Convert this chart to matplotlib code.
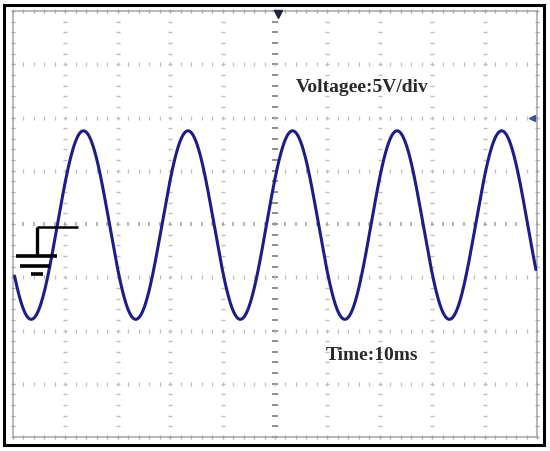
import numpy as np
import matplotlib
matplotlib.use("Agg")
import matplotlib.pyplot as plt
from matplotlib.patches import Rectangle

# scope settings (10 x 8 divisions)
time_per_div_ms = 10
volt_per_div = 5
n_div_x = 10
n_div_y = 8

# trace parameters
amplitude_v = 8.85
offset_v = -0.1
period_ms = 19.95
first_peak_ms = 13.45
trace_start_ms = 0.3
trace_end_ms = 99.8

# annotations
voltage_label = "Voltagee:5V/div"
time_label = "Time:10ms"
voltage_label_pos = (54.0, 12.4)
time_label_pos = (59.7, -12.8)

# ground symbol segments (x0, x1, y) in ms / V
ground_bars = [(0.61, 8.46, -3.0, 2.6), (1.28, 7.06, -3.91, 2.6), (3.4, 5.7, -4.7, 2.6)]
ground_top = (4.6, 12.4, -0.31)
ground_stem = (4.6, -0.31, -3.0)

W, H = 550, 451
fig = plt.figure(figsize=(W / 100, H / 100), dpi=100)
fig.patch.set_facecolor("white")

# screen area in pixels
sx0, sx1, sy0, sy1 = 13, 537, 11, 437
ax = fig.add_axes([sx0 / W, 1 - sy1 / H, (sx1 - sx0) / W, (sy1 - sy0) / H])
xmax = n_div_x * time_per_div_ms
ymax = n_div_y / 2 * volt_per_div
ax.set_xlim(0, xmax)
ax.set_ylim(-ymax, ymax)
ax.axis("off")

grid_col = "#bdbdbd"
minor_x = np.arange(0, xmax + 0.01, time_per_div_ms / 5)
minor_y = np.arange(-ymax, ymax + 0.01, volt_per_div / 5)

# vertical division lines: columns of short dashes
for k in range(1, n_div_x):
    xv = k * time_per_div_ms
    centre = (k == n_div_x // 2)
    ax.plot(np.full_like(minor_y, xv), minor_y, ls="none", marker="_",
            ms=4.5 if centre else 3, mew=1.4 if centre else 1.0,
            color="#8c8c8c" if centre else grid_col, clip_on=False)

# horizontal division lines: rows of short ticks
for k in range(1, n_div_y):
    yv = -ymax + k * volt_per_div
    centre = (k == n_div_y // 2)
    ax.plot(minor_x, np.full_like(minor_x, yv), ls="none", marker="|",
            ms=3.5 if centre else 2.5, mew=1.1 if centre else 0.9,
            color="#a0a0a0" if centre else grid_col, clip_on=False)

# screen edges
edge_col = "#a5a5a5"
for yv in (-ymax, ymax):
    ax.plot([0, xmax], [yv, yv], color=edge_col, lw=1.1, clip_on=False)
    ax.plot(minor_x, np.full_like(minor_x, yv), ls="none", marker="|",
            ms=3.5, mew=0.9, color=edge_col, clip_on=False)
for xv in (0, xmax):
    ax.plot([xv, xv], [-ymax, ymax], color=edge_col, lw=1.1, clip_on=False)
    ax.plot(np.full_like(minor_y, xv), minor_y, ls="none", marker="_",
            ms=3.5, mew=0.9, color=edge_col, clip_on=False)

# the trace
t = np.linspace(trace_start_ms, trace_end_ms, 3000)
v = offset_v + amplitude_v * np.cos(2 * np.pi * (t - first_peak_ms) / period_ms)
ax.plot(t, v, color="#1c1c8a", lw=2.2, zorder=3, solid_capstyle="round")

# ground symbol
ax.plot([ground_top[0], ground_top[1]], [ground_top[2], ground_top[2]],
        color="black", lw=1.8, zorder=4, solid_capstyle="butt")
ax.plot([ground_stem[0], ground_stem[0]], [ground_stem[1], ground_stem[2]],
        color="black", lw=2.4, zorder=4, solid_capstyle="butt")
for x0, x1, yb, lw in ground_bars:
    ax.plot([x0, x1], [yb, yb], color="black", lw=lw, zorder=4, solid_capstyle="butt")

# markers: trigger position (top) and trigger level (right)
ax.plot([50.6], [19.7], marker="v", ms=6, color="#222244", clip_on=False, zorder=5)
ax.plot([99.0], [10.0], marker="<", ms=5, color="#3a4fa8", clip_on=False, zorder=5)

font = ["Liberation Serif", "DejaVu Serif"]
ax.text(*voltage_label_pos, voltage_label, family=font, fontsize=14,
        fontweight="bold", color="#2a2a2a", va="baseline", ha="left")
ax.text(*time_label_pos, time_label, family=font, fontsize=14,
        fontweight="bold", color="#2a2a2a", va="baseline", ha="left")

# outer black frame
fig.add_artist(Rectangle((4 / W, 1 - 445 / H), 540 / W, 440 / H,
                         transform=fig.transFigure, fill=False,
                         edgecolor="black", lw=2.2))

fig.savefig("out.png", dpi=100)
